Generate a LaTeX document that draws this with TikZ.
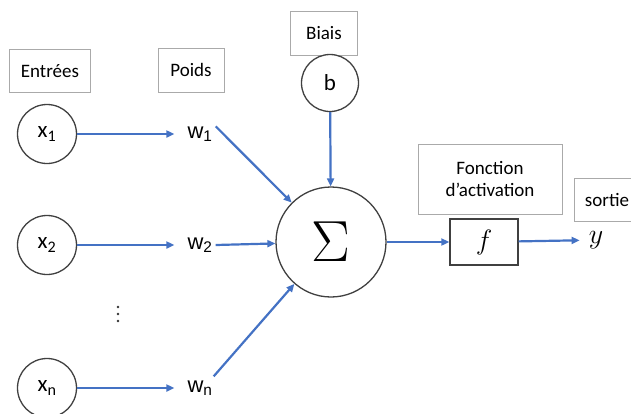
\RequirePackage{fix-cm}
\documentclass[tikz,border=0pt]{standalone}
\usepackage{fontspec}
\setmainfont{Carlito}
\newfontfamily\wfont{Liberation Sans}
\usetikzlibrary{arrows.meta,positioning,calc}
\definecolor{nblue}{RGB}{68,114,196}
\definecolor{nline}{RGB}{64,64,64}
\definecolor{nbox}{RGB}{170,170,170}
\tikzset{
  tag/.style={rectangle,draw=nbox,line width=0.9pt,fill=white,
              font=\fontsize{19}{22}\selectfont,align=center,inner sep=2pt},
  unit/.style={circle,draw=nline,line width=1.3pt,fill=white,inner sep=0pt},
  var/.style={font=\fontsize{23}{26}\selectfont,inner sep=0pt},
  wvar/.style={font=\wfont\fontsize{22}{25}\selectfont,inner sep=0pt},
  feed/.style={-{Triangle[length=8pt,width=7pt]},nblue,line width=2.2pt},
}
\begin{document}
\begin{tikzpicture}[x=1pt,y=-1pt]
  \useasboundingbox (0,0) rectangle (631,413);
  % captions
  \node[tag,minimum width=81pt,minimum height=43pt] (entrees) at (50,71)  {Entrées};
  \node[tag,minimum width=66pt,minimum height=44pt] (poids)   at (191,70) {Poids};
  \node[tag,minimum width=67pt,minimum height=44pt] (biais)   at (324,33) {Biais};
  \node[tag,minimum width=144pt,minimum height=70pt] (activ)  at (490,179) {Fonction\\d'activation};
  \node[tag,minimum width=66pt,minimum height=43pt] (sortie)  at (607,200) {sortie};
  % inputs and weights
  \node[unit,minimum size=59pt] (x1) at (47,134) {};
  \node[var] at (x1) {x\textsubscript{1}};
  \node[unit,minimum size=59pt] (x2) at (47,245) {};
  \node[var] at (x2) {x\textsubscript{2}};
  \node[unit,minimum size=59pt] (xn) at (47,388) {};
  \node[var] at (xn) {x\textsubscript{n}};
  \node[wvar] (w1) at (200,134) {w\textsubscript{1}};
  \node[wvar] (w2) at (200,245) {w\textsubscript{2}};
  \node[wvar] (wn) at (200,388) {w\textsubscript{n}};
  % vertical ellipsis between x2 and xn
  \foreach \dy in {307,314,321}
    \fill[black!80] (118,\dy) circle (1.4pt);
  % bias, sum, activation
  \node[unit,minimum size=57pt] (b) at (330,83) {};
  \node[var] at (b) {b};
  \node[unit,minimum size=110pt] (sum) at (331,242) {};
  \node[font=\fontsize{58}{58}\selectfont] at (sum) {$\Sigma$};
  \node[rectangle,draw=nline,line width=1.4pt,fill=white,
        minimum width=68pt,minimum height=46pt,font=\fontsize{28}{28}\selectfont] (f) at (484,242) {$f$};
  \node[font=\fontsize{28}{28}\selectfont,inner sep=0pt] (y) at (596,240) {$y$};
  % connections
  \draw[feed,shorten >=13pt] (x1) -- (w1);
  \draw[feed,shorten >=13pt] (x2) -- (w2);
  \draw[feed,shorten >=13pt] (xn) -- (wn);
  \draw[feed] (w1.north east) ++(3pt,0) coordinate (w1o) -- (sum);
  \draw[feed] (w2.east) ++(3pt,0) coordinate (w2o) -- (sum);
  \draw[feed] (wn.north east) ++(1pt,4pt) coordinate (wno) -- (sum);
  \draw[feed] (b) -- (sum);
  \draw[feed] (sum) -- (f);
  \draw[feed,shorten >=9pt] (f) -- (y);
\end{tikzpicture}
\end{document}
